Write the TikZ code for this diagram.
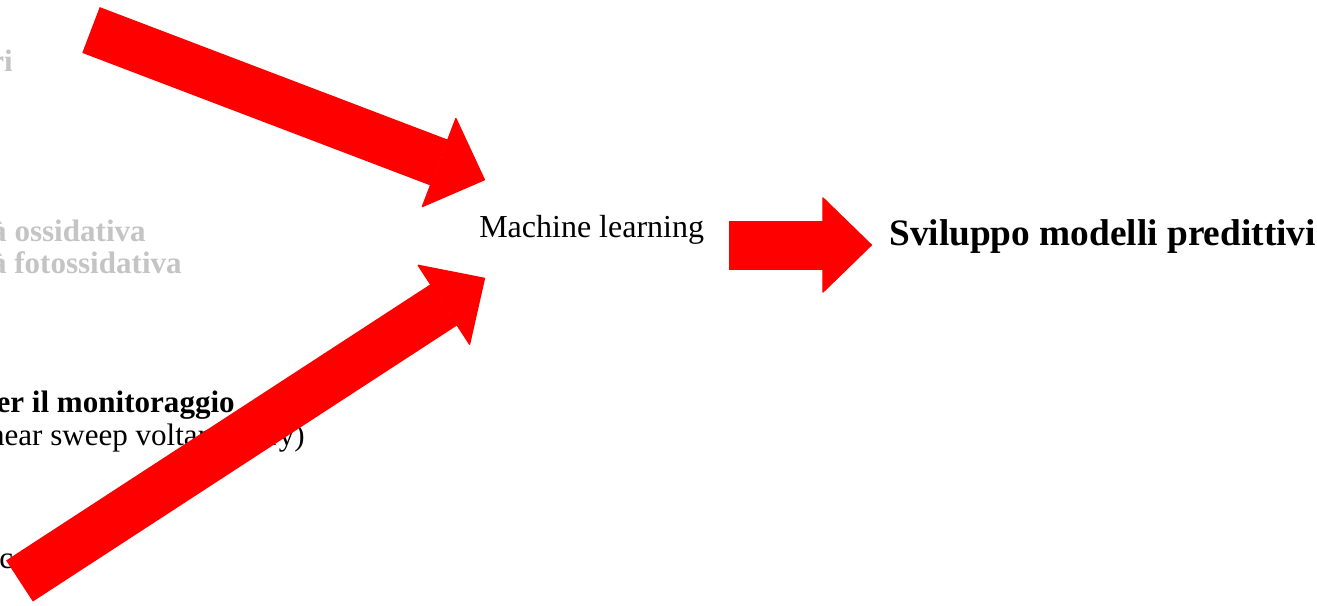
\documentclass[tikz,border=0pt]{standalone}
\usepackage{fontspec}
\setmainfont{Liberation Serif}
\usetikzlibrary{arrows.meta}

\tikzset{
  bigarrow/.style={draw=red, line width=36.75pt,
    -{Triangle[length=37.5pt,width=72.75pt,line width=1pt,round]}},
  faded/.style={text=black!23, inner sep=0pt, anchor=base east,
    font=\fontsize{23.3pt}{32pt}\selectfont\bfseries},
  heavy/.style={inner sep=0pt, anchor=base east,
    font=\fontsize{23.3pt}{32pt}\selectfont\bfseries},
  plain/.style={inner sep=0pt, anchor=base east,
    font=\fontsize{23.3pt}{32pt}\selectfont},
}

\begin{document}
\begin{tikzpicture}[x=0.75pt,y=-0.75pt]
% page frame, the left texts run off the page
    \clip (0,0) rectangle (1317,606);

% left column, cut at the page edge
    \node[faded] (descr) at (13,72) {Descrittori};
    \node[faded] (oss) at (146,241) {Attività ossidativa};
    \node[faded] (foto) at (182,273) {Attività fotossidativa};
    \node[heavy] (monit) at (235,412) {Sensori per il monitoraggio};
    \node[plain] (lsv) at (305,445) {(linear sweep voltammetry)};
    \node[plain,anchor=base west] (cv) at (-1,568) {ce};

% middle and right texts
    \node[plain,anchor=base west,font=\fontsize{24pt}{30pt}\selectfont]
      (ml) at (479,238) {Machine learning};
    \node[heavy,anchor=base west,font=\fontsize{28pt}{34pt}\selectfont\bfseries]
      (model) at (889,245) {Sviluppo modelli predittivi};

% arrow ends
    \coordinate (top in) at (91,30);
    \coordinate (top tip) at (485,180);
    \coordinate (low in) at (19.5,581);
    \coordinate (low tip) at (485,278);
    \coordinate (ml out) at (729,245);
    \coordinate (model in) at (872,245);

% big red arrows
    \draw[bigarrow] (top in) -- (top tip);
    \draw[bigarrow] (low in) -- (low tip);
    \draw[bigarrow] (ml out) -- (model in);

\end{tikzpicture}
\end{document}
